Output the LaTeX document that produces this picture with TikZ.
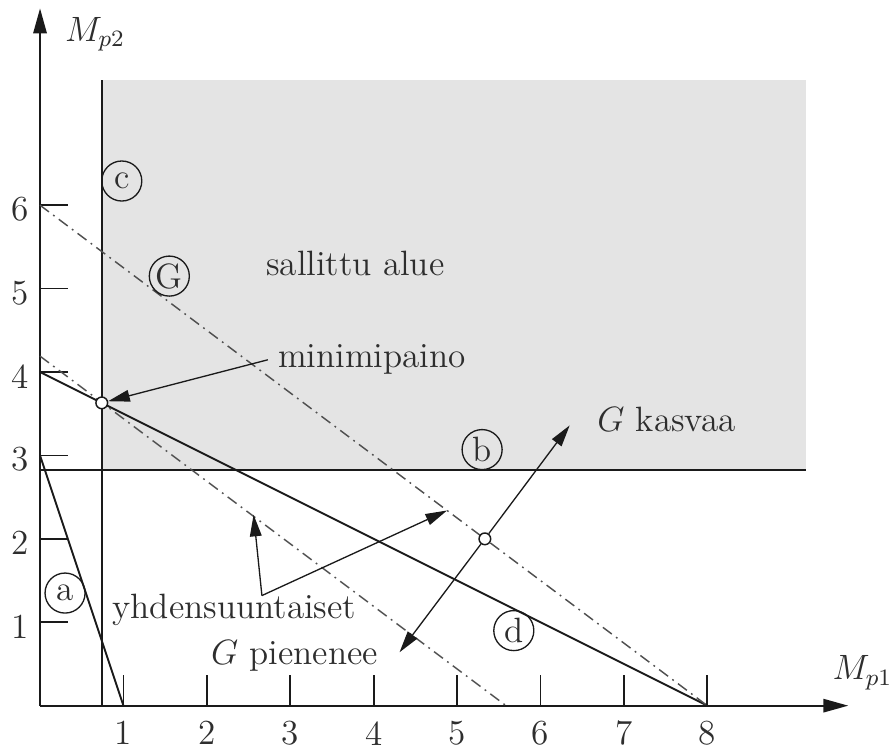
\documentclass[tikz,border=0pt]{standalone}
\usetikzlibrary{arrows.meta,positioning,calc}
\definecolor{plotink}{HTML}{1A1A1A}
\definecolor{plottext}{HTML}{2E2E2E}
\definecolor{plotgray}{HTML}{E4E4E4}
\definecolor{dashgray}{HTML}{505050}
\tikzset{
  ax/.style={line width=0.7pt, color=plotink, -{Triangle[length=3mm, width=1.6mm]}},
  tk/.style={line width=0.6pt, color=plotink},
  lim/.style={line width=0.65pt, color=plotink},
  dd/.style={line width=0.5pt, color=dashgray, dash pattern=on 3.8pt off 1.8pt on 0.6pt off 1.8pt},
  arr/.style={-{Triangle[length=2.6mm, width=1.4mm]}, line width=0.45pt, color=plotink},
  ring/.style={circle, draw=plotink, line width=0.45pt, inner sep=0pt, minimum size=4.8mm, text=plottext},
  pt/.style={circle, draw=plotink, fill=white, line width=0.5pt, inner sep=0pt, minimum size=1.4mm},
  txt/.style={anchor=base, text=plottext},
  num/.style={text=plottext},
}
\begin{document}
\begin{tikzpicture}[font=\fontsize{12}{14}\selectfont]
  \useasboundingbox (-0.48,-0.59) rectangle (10.25,8.46);
  % sallittu alue
  \fill[plotgray] (0.74,2.83) rectangle (9.18,7.5);
  \draw[lim] (0.74,0) -- (0.74,7.5);
  \draw[lim] (0,2.83) -- (9.18,2.83);
  % akselit
  \draw[ax] (0,0) -- (9.69,0);
  \draw[ax] (0,0) -- (0,8.36);
  \foreach \i in {1,...,8} {
    \draw[tk] (\i,0) -- (\i,0.37);
    \node[num] (x\i) at (\i,-0.33) {\i};
  }
  \foreach \j in {1,...,6} {
    \draw[tk] (0,\j) -- (0.34,\j);
    \node[num] (y\j) at (-0.24,\j-0.05) {\j};
  }
  \node[txt] (yax) at (0.66,7.96) {$M_{p2}$};
  \node[txt] (xax) at (9.86,0.31) {$M_{p1}$};
  % rajoitteet
  \draw[lim] (0,3) -- (1,0);
  \draw[lim] (0,4) -- (8,0);
  \draw[dd] (0,6) -- (8,0);
  \draw[dd] (0,4.19) -- (5.587,0);
  \node[ring] (ca) at (0.30,1.35) {a};
  \node[ring] (cb) at (5.30,3.07) {b};
  \node[ring] (cc) at (0.98,6.29) {c};
  \node[ring] (cd) at (5.68,0.90) {d};
  \node[ring] (cg) at (1.55,5.15) {G};
  \node[pt] (minpt) at (0.74,3.63) {};
  \node[pt] (gpt) at (5.333,2) {};
  % tekstit
  \node[txt] (sal) at (3.78,5.16) {sallittu alue};
  \node[txt] (minw) at (3.98,4.05) {minimipaino};
  \node[txt] (yhd) at (2.33,1.05) {yhdensuuntaiset};
  \node[txt] (gkas) at (7.51,3.29) {$G$ kasvaa};
  \node[txt] (gpie) at (3.05,0.49) {$G$ pienenee};
  \coordinate (vee) at (2.66,1.32);
  \coordinate (onlow) at (2.56,2.29);
  \coordinate (onup) at (4.88,2.34);
  \coordinate (gup) at (6.35,3.36);
  \coordinate (gdn) at (4.31,0.64);
  \draw[arr] (minw.west) -- (minpt);
  \draw[arr] (vee) -- (onlow);
  \draw[arr] (vee) -- (onup);
  \draw[arr] (gpt) -- (gup);
  \draw[arr] (gpt) -- (gdn);
\end{tikzpicture}
\end{document}
